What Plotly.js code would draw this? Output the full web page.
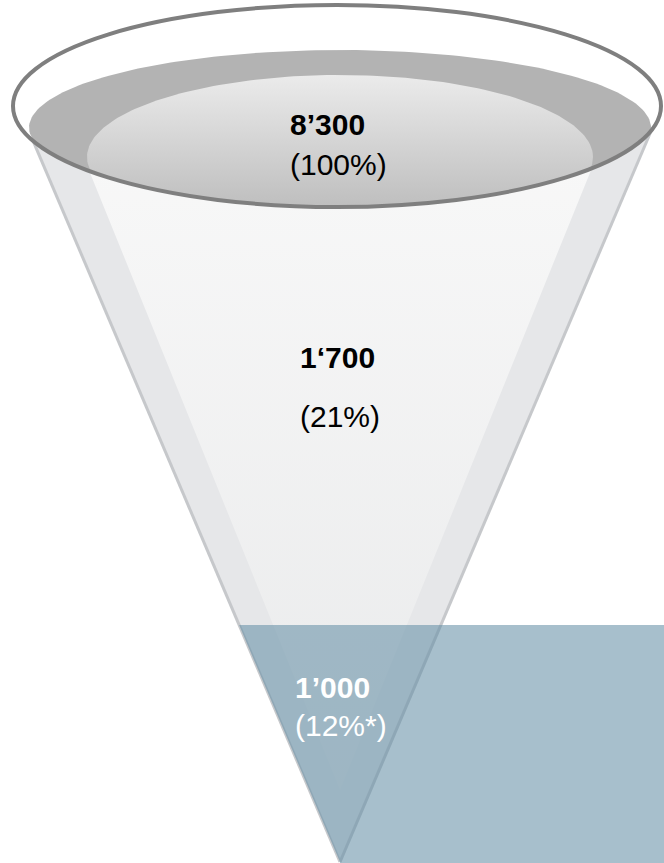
<!DOCTYPE html>
<html>
<head>
<meta charset="utf-8">
<script src="https://cdn.plot.ly/plotly-3.0.1.min.js"></script>
<style>
  html, body { margin: 0; padding: 0; background: #ffffff; }
  #chart { width: 664px; height: 863px; }
</style>
</head>
<body>
<div id="chart"></div>
<script>
// ---- data ----
const stageCounts = [8300, 1700, 1000];
const valueLabels = ['8’300', '1‘700', '1’000'];
const shareLabels = ['(100%)', '(21%)', '(12%*)'];
const labelColors = ['#000000', '#000000', '#ffffff'];

// ---- layout constants (decoration geometry, pixel space) ----
const W = 664, H = 863;
const labelX = [288, 298, 293];
const valueY = [124, 357, 687];
const shareY = [164, 416, 725];

const rim = {cx: 337, cy: 106, rx: 324, ry: 101};
const grayEl = {cx: 340, cy: 127.5, rx: 311, ry: 77.5};
const innerEl = {cx: 340, cy: 157, rx: 253, ry: 82};
const tip = {x: 340, y: 862};
const coneSlope = 0.4256;
const lightApex = {x: 340, y: 790};
const lightSlope = 0.405;
const blueTop = 625;

function rimBottom(x) {
  const u = (x - rim.cx) / rim.rx;
  if (Math.abs(u) >= 1) return rim.cy;
  return rim.cy + rim.ry * Math.sqrt(1 - u * u);
}
function ellipsePts(e, n) {
  const xs = [], ys = [];
  for (let i = 0; i <= n; i++) {
    const t = 2 * Math.PI * i / n;
    const x = e.cx + e.rx * Math.cos(t);
    let y = e.cy + e.ry * Math.sin(t);
    y = Math.min(y, rimBottom(x));
    xs.push(x); ys.push(y);
  }
  return {xs, ys};
}
function edgeX(apex, slope, side, y) { return apex.x + side * slope * (apex.y - y); }
function arcHit(apex, slope, side) {
  let lo = rim.cy, hi = rim.cy + rim.ry + 60;
  for (let i = 0; i < 60; i++) {
    const m = (lo + hi) / 2;
    const f = m - rimBottom(edgeX(apex, slope, side, m));
    if (f < 0) lo = m; else hi = m;
  }
  const y = (lo + hi) / 2;
  return {x: edgeX(apex, slope, side, y), y};
}
function wedge(apex, slope) {
  const L = arcHit(apex, slope, -1), R = arcHit(apex, slope, 1);
  const xs = [L.x], ys = [L.y];
  const n = 80;
  for (let i = 1; i < n; i++) {
    const x = L.x + (R.x - L.x) * i / n;
    xs.push(x); ys.push(rimBottom(x));
  }
  xs.push(R.x, apex.x, L.x); ys.push(R.y, apex.y, L.y);
  return {xs, ys, L, R};
}

const g = ellipsePts(grayEl, 240);
const inn = ellipsePts(innerEl, 240);
const cone = wedge(tip, coneSlope);
const light = wedge(lightApex, lightSlope);

const base = {type: 'scatter', mode: 'lines', fill: 'toself', line: {width: 0}, hoverinfo: 'skip', showlegend: false};
const traces = [
  Object.assign({}, base, {x: g.xs, y: g.ys, fillcolor: '#b3b3b3'}),
  Object.assign({}, base, {x: inn.xs, y: inn.ys,
    fillgradient: {type: 'vertical', start: 75, stop: 205, colorscale: [[0, '#ebebeb'], [1, '#bfbfbf']]}}),
  Object.assign({}, base, {x: cone.xs, y: cone.ys, fillcolor: '#e6e7e9'}),
  Object.assign({}, base, {x: light.xs, y: light.ys,
    fillgradient: {type: 'vertical', start: 150, stop: 790, colorscale: [[0, '#f8f8f8'], [1, '#e9eaeb']]}})
];

const blueL = edgeX(tip, coneSlope, -1, blueTop);
const shapes = [
  {type: 'line', layer: 'above', x0: cone.L.x, y0: cone.L.y, x1: tip.x, y1: tip.y, line: {color: '#c6c8cb', width: 3}},
  {type: 'line', layer: 'above', x0: cone.R.x, y0: cone.R.y, x1: tip.x, y1: tip.y, line: {color: '#c6c8cb', width: 3}},
  {type: 'path', layer: 'above',
   path: `M ${blueL} ${blueTop} L ${tip.x} ${tip.y} L ${tip.x} ${H} L ${W} ${H} L ${W} ${blueTop} Z`,
   fillcolor: 'rgba(101,143,166,0.57)', line: {width: 0}},
  {type: 'circle', layer: 'above', x0: rim.cx - rim.rx, x1: rim.cx + rim.rx, y0: rim.cy - rim.ry, y1: rim.cy + rim.ry,
   line: {color: '#7f7f7f', width: 4}, fillcolor: 'rgba(0,0,0,0)'}
];

const font = 'Arial, "Liberation Sans", sans-serif';
const annotations = [];
for (let i = 0; i < stageCounts.length; i++) {
  annotations.push({x: labelX[i], y: valueY[i], xref: 'x', yref: 'y', xanchor: 'left', yanchor: 'middle',
    text: '<b>' + valueLabels[i] + '</b>', showarrow: false, font: {family: font, size: 30, color: labelColors[i]}});
  annotations.push({x: labelX[i], y: shareY[i], xref: 'x', yref: 'y', xanchor: 'left', yanchor: 'middle',
    text: shareLabels[i], showarrow: false, font: {family: font, size: 30, color: labelColors[i]}});
}

const layout = {
  width: W, height: H,
  margin: {l: 0, r: 0, t: 0, b: 0, pad: 0},
  paper_bgcolor: '#ffffff', plot_bgcolor: '#ffffff',
  xaxis: {range: [0, W], visible: false, fixedrange: true},
  yaxis: {range: [H, 0], visible: false, fixedrange: true},
  showlegend: false,
  shapes, annotations
};
Plotly.newPlot('chart', traces, layout, {displayModeBar: false, staticPlot: true});
</script>
</body>
</html>
